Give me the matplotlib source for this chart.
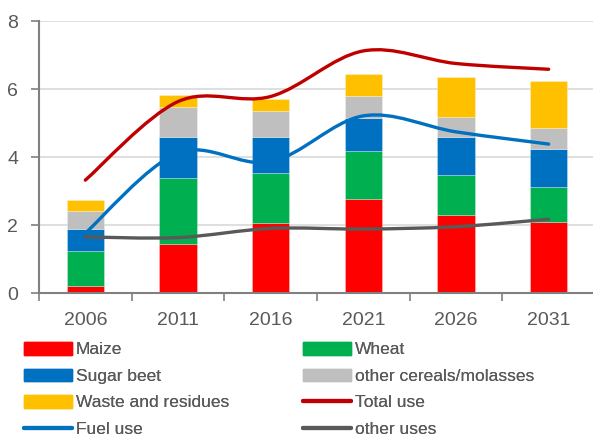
import numpy as np
import matplotlib
matplotlib.use("Agg")
import matplotlib.pyplot as plt
from matplotlib.path import Path
from matplotlib.patches import PathPatch, Patch
from matplotlib.lines import Line2D

years = ["2006", "2011", "2016", "2021", "2026", "2031"]

maize = [0.22, 1.45, 2.05, 2.77, 2.30, 2.08]
wheat = [1.03, 1.93, 1.48, 1.41, 1.17, 1.05]
sugar_beet = [0.63, 1.22, 1.07, 0.97, 1.11, 1.12]
other_cereals = [0.52, 0.87, 0.75, 0.65, 0.59, 0.59]
waste = [0.34, 0.35, 0.35, 0.64, 1.18, 1.40]

total_use = [3.32, 5.63, 5.78, 7.12, 6.75, 6.58]
fuel_use = [1.76, 4.12, 3.86, 5.21, 4.74, 4.38]
other_uses = [1.65, 1.63, 1.90, 1.88, 1.95, 2.17]

TXT = "#595959"
plt.rcParams["font.family"] = ["Liberation Sans", "DejaVu Sans"]
plt.rcParams["text.color"] = TXT


def smooth_path(x, y):
    # Excel-style smoothed line: Catmull-Rom converted to cubic Bezier
    pts = np.column_stack([x, y]).astype(float)
    ext = np.vstack([pts[0], pts, pts[-1]])
    verts = [pts[0]]
    codes = [Path.MOVETO]
    for i in range(1, len(ext) - 2):
        p0, p1, p2, p3 = ext[i - 1], ext[i], ext[i + 1], ext[i + 2]
        verts += [p1 + (p2 - p0) / 6, p2 - (p3 - p1) / 6, p2]
        codes += [Path.CURVE4] * 3
    return Path(verts, codes)


fig = plt.figure(figsize=(5.93, 4.38), dpi=100)
ax = fig.add_axes([39 / 593, 1 - 293 / 438, 556 / 593, 272 / 438])

x = np.arange(len(years))
series = [
    (maize, "#FF0000", "Maize"),
    (wheat, "#00B050", "Wheat"),
    (sugar_beet, "#0070C0", "Sugar beet"),
    (other_cereals, "#BFBFBF", "other cereals/molasses"),
    (waste, "#FFC000", "Waste and residues"),
]
bottom = np.zeros(len(years))
for vals, col, lab in series:
    ax.bar(x, vals, width=0.4, bottom=bottom, color=col,
           edgecolor=(1, 1, 1, 0.4), linewidth=0.5, zorder=2)
    bottom += np.array(vals)

lines = [
    (total_use, "#C00000", "Total use"),
    (fuel_use, "#0070C0", "Fuel use"),
    (other_uses, "#595959", "other uses"),
]
for vals, col, lab in lines:
    ax.add_patch(PathPatch(smooth_path(x, vals), facecolor="none",
                           edgecolor=col, lw=2.4, capstyle="round", zorder=3))

ax.set_xlim(-0.5, 5.5)
ax.set_ylim(0, 8)
ax.set_yticks([0, 2, 4, 6, 8])
ax.yaxis.grid(True, color="#D9D9D9", lw=1.2)
ax.set_axisbelow(True)
ax.set_xticks(x)
ax.set_xticklabels(years)
ax.set_xticks(np.arange(-0.5, 6, 1), minor=True)
ax.tick_params(axis="x", which="major", length=0, pad=14, labelsize=14, labelcolor=TXT)
ax.tick_params(axis="x", which="minor", length=6, width=1.2, color="#808080")
ax.tick_params(axis="y", length=6, width=1.2, color="#808080", pad=9,
               labelsize=14, labelcolor=TXT)
for s in ["top", "right"]:
    ax.spines[s].set_visible(False)
for s in ["left", "bottom"]:
    ax.spines[s].set_color("#808080")
    ax.spines[s].set_linewidth(1.5)

patch_h = {lab: Patch(color=col) for _, col, lab in series}
line_h = {lab: Line2D([], [], color=col, lw=3, solid_capstyle="round") for _, col, lab in lines}
col1 = [("Maize", patch_h["Maize"]), ("Sugar beet", patch_h["Sugar beet"]),
        ("Waste and residues", patch_h["Waste and residues"]), ("Fuel use", line_h["Fuel use"])]
col2 = [("Wheat", patch_h["Wheat"]), ("other cereals/molasses", patch_h["other cereals/molasses"]),
        ("Total use", line_h["Total use"]), ("other uses", line_h["other uses"])]

for items, x0 in [(col1, 24), (col2, 303)]:
    leg = fig.legend([h for _, h in items], [l for l, _ in items],
                     loc="upper left", bbox_to_anchor=(x0 / 593, 1 - 342 / 438),
                     frameon=False, fontsize=12.5, handlelength=2.75, handleheight=0.75,
                     handletextpad=0.25, labelspacing=0.64, borderpad=0, borderaxespad=0)
    fig.add_artist(leg)

fig.savefig("out.png", dpi=100)
